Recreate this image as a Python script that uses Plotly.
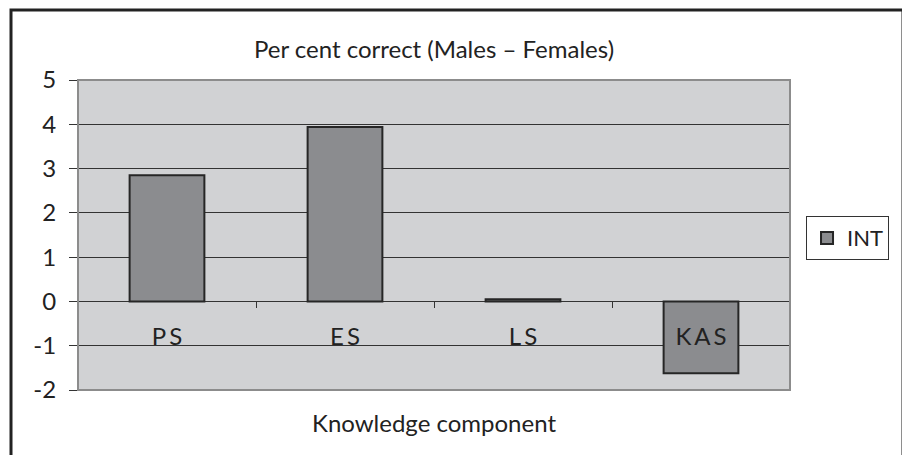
import plotly.graph_objects as go

categories = ["PS", "ES", "LS", "KAS"]
tick_text = ["P\u2009S", "E\u2009S", "L\u2009S", "K\u2009A\u2009S"]
values = [2.85, 3.94, 0.05, -1.62]
series_name = "INT"
y_ticks = [-2, -1, 0, 1, 2, 3, 4, 5]

FONT = "Lato, 'Open Sans', sans-serif"
y_min, y_max = -2, 5

fig = go.Figure(
    data=[
        go.Bar(
            x=categories, y=values, name=series_name,
            marker={"color": "#8b8c8f", "line": {"color": "#262626", "width": 2}},
            width=0.42,
        )
    ]
)

zero_pos = (0 - y_min) / (y_max - y_min)

# the page body adds an 8px offset, so margins are trimmed by that amount
fig.update_layout(
    width=910, height=455,
    margin={"l": 70, "r": 128, "t": 72, "b": 73},
    paper_bgcolor="#ffffff",
    plot_bgcolor="#d1d2d4",
    font={"family": FONT, "size": 22, "color": "#222222"},
    title={
        "text": "Per cent correct (Males \u2013 Females)",
        "x": 0.5, "xref": "paper", "y": 1 - 42 / 455, "yanchor": "middle",
        "font": {"size": 24, "color": "#222222"},
    },
    showlegend=True,
    legend={
        "x": 1.0225, "y": 0.561, "xanchor": "left", "yanchor": "top",
        "bordercolor": "#333333", "borderwidth": 1,
        "font": {"size": 22}, "itemwidth": 30,
        "tracegroupgap": 0,
    },
    xaxis={
        "type": "category",
        "range": [-0.5, 3.5],
        "tickmode": "array", "tickvals": categories, "ticktext": tick_text,
        "tickson": "boundaries", "ticks": "outside", "ticklen": 6,
        "tickcolor": "#333333", "tickwidth": 1,
        "anchor": "free", "position": zero_pos,
        "showgrid": False, "showline": False, "zeroline": False,
        "tickfont": {"size": 24},
        "ticklabelstandoff": 19,
    },
    yaxis={
        "range": [y_min, y_max],
        "tickmode": "array", "tickvals": y_ticks,
        "ticktext": [str(v) for v in y_ticks],
        "ticks": "outside", "ticklen": 8, "tickcolor": "#333333",
        "showgrid": True, "gridcolor": "#333333", "gridwidth": 1,
        "zeroline": True, "zerolinecolor": "#333333", "zerolinewidth": 1,
        "showline": False,
        "tickfont": {"size": 24},
        "ticklabelstandoff": 8,
    },
    shapes=[
        # plot area border
        {"type": "rect", "xref": "paper", "yref": "paper", "x0": 0, "x1": 1,
         "y0": 0, "y1": 1, "line": {"color": "#8c8c8c", "width": 2}, "layer": "above"},
        # outer frame
        {"type": "rect", "xref": "paper", "yref": "paper", "x0": -0.0941, "x1": 1.1587,
         "y0": -0.3, "y1": 1.2258, "line": {"color": "#222222", "width": 3}},
    ],
    annotations=[
        {"text": "Knowledge component", "xref": "paper", "yref": "paper",
         "x": 0.5, "y": -0.106, "yanchor": "middle", "showarrow": False,
         "font": {"size": 24, "color": "#222222"}},
    ],
)

fig.write_html("out.html")
